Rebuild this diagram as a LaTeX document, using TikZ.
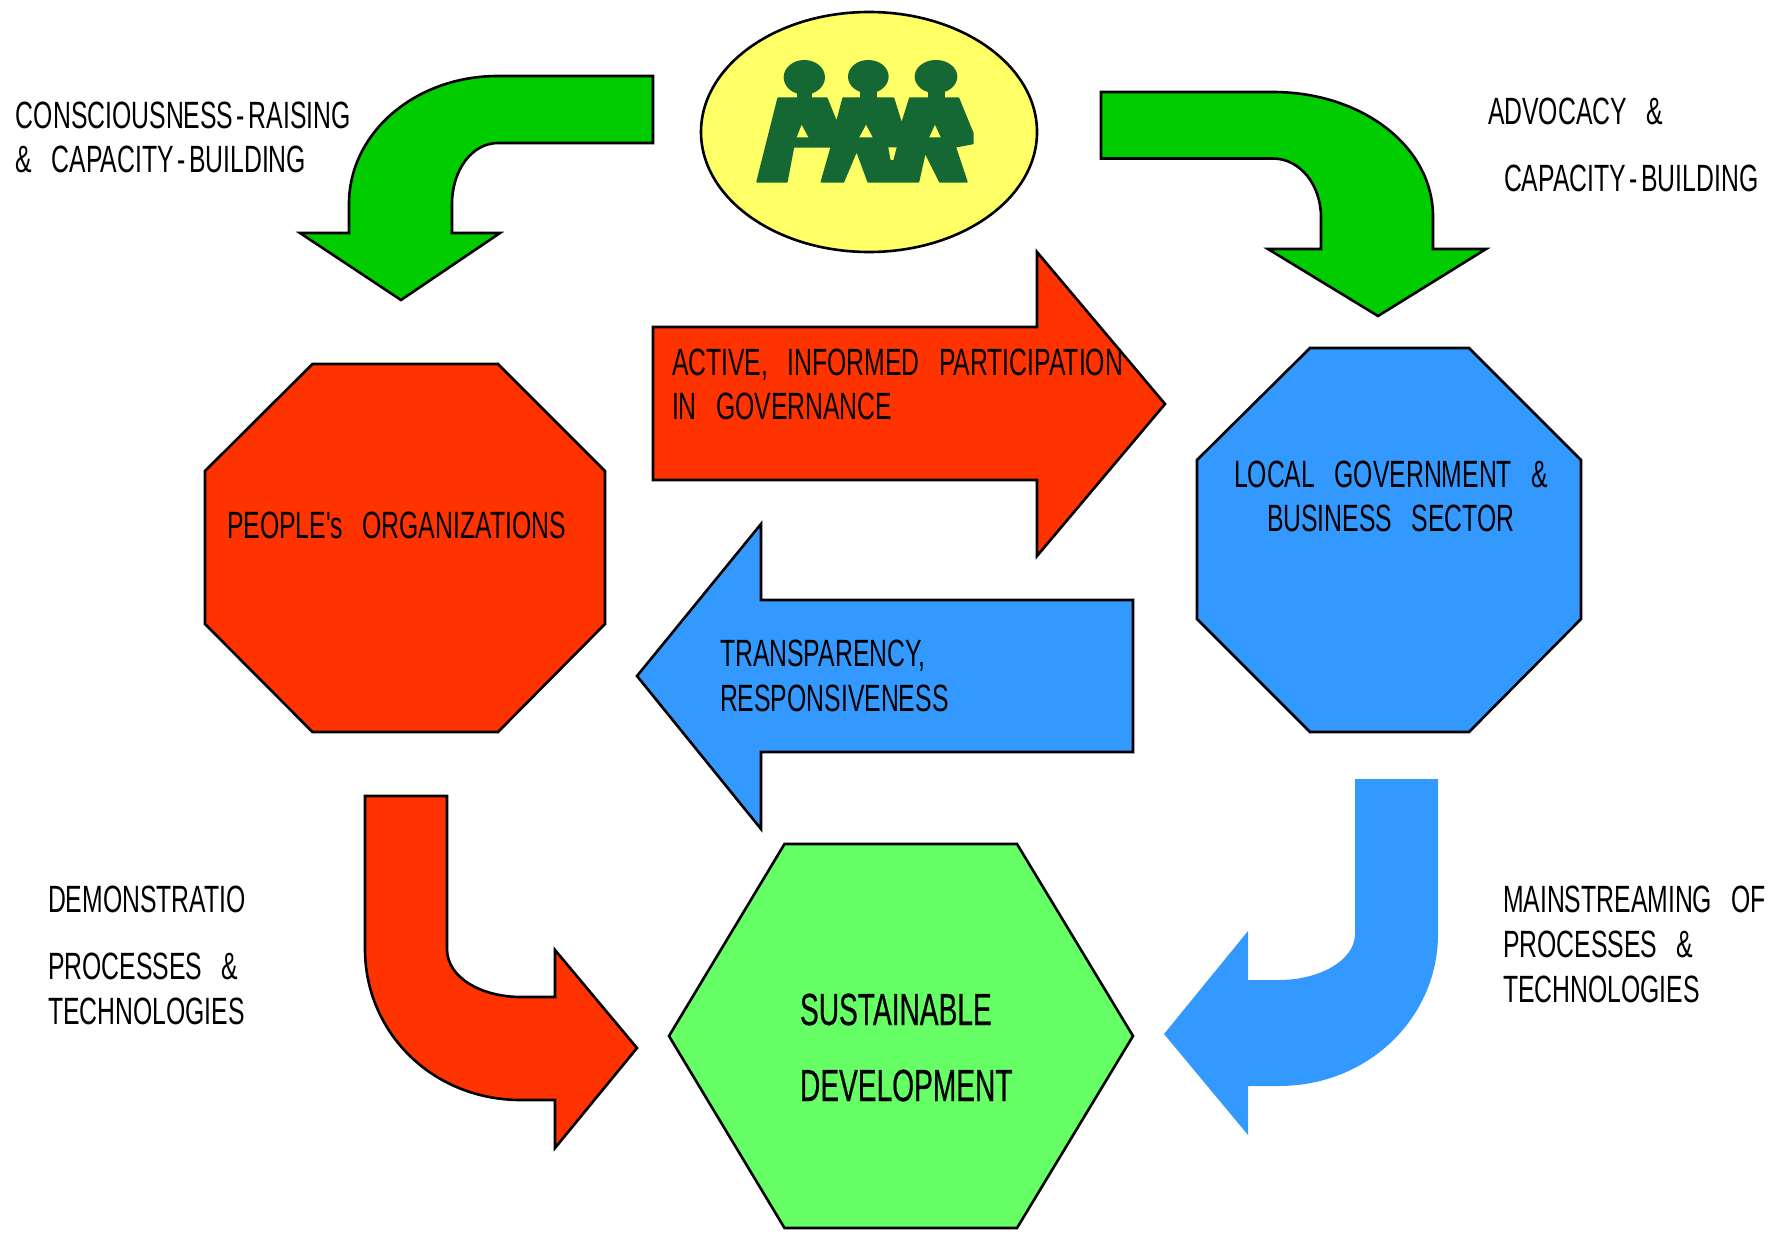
\documentclass[tikz,border=0pt]{standalone}
\usepackage{fontspec}
\newfontfamily\narrowfont[FakeStretch=0.652,WordSpace=2.8]{Liberation Sans}
\newfontfamily\narrowbold[FakeStretch=0.625,WordSpace=1.2,FakeBold=0.5]{Liberation Sans}
\newcommand{\hy}{\kern3.5pt-\kern3.5pt}
\definecolor{cRed}{HTML}{FF3300}
\definecolor{cBlue}{HTML}{3399FF}
\definecolor{cGreen}{HTML}{00CC00}
\definecolor{cHex}{HTML}{66FF66}
\definecolor{cYellow}{HTML}{FFFF66}
\definecolor{cLogo}{HTML}{156734}
\tikzset{
 shapeline/.style={draw=black,line width=2.6pt,line join=miter,miter limit=6},
 lbl/.style={anchor=base west,inner sep=0pt,outer sep=0pt,text=black,font=\fontsize{38}{38}\narrowfont},
 lblb/.style={anchor=base west,inner sep=0pt,outer sep=0pt,text=black,font=\fontsize{45}{45}\narrowbold},
}
\begin{document}
\begin{tikzpicture}[x=1pt,y=-1pt]
\useasboundingbox (0,0) rectangle (1775,1233);
% ellipse
\draw[shapeline,fill=cYellow] (869,132) ellipse [x radius=168,y radius=120];
% logo
\begin{scope}[shift={(680,0)},x=0.3333pt,y=-0.3333pt]
\fill[cLogo] (373,232) ellipse [x radius=62,y radius=52];
\fill[cLogo] (565,230) ellipse [x radius=61,y radius=50];
\fill[cLogo] (768,230) ellipse [x radius=64,y radius=50];
\fill[cLogo] (350,270) rectangle (395,300);
\fill[cLogo] (540,270) rectangle (590,300);
\fill[cLogo] (745,270) rectangle (795,300);
\fill[cLogo,line join=round,draw=cLogo,line width=2pt] (295,295)--(440,295)--(470,370)--(490,295)--(640,295)--(665,375)--(690,295)--(835,295)
 --(878,400)--(878,430)--(825,440)--(860,545)--(780,545)--(735,455)--(715,545)--(565,545)--(530,450)
 --(490,545)--(425,545)--(455,440)--(340,440)--(320,545)--(232,545)--cycle;
\fill[cYellow] (365,375)--(385,412)--(350,412)--cycle;
\fill[cYellow] (558,375)--(578,412)--(538,412)--cycle;
\fill[cYellow] (765,375)--(782,412)--(748,412)--cycle;
\fill[cYellow] (625,442)--(650,442)--(640,480)--(632,480)--cycle;
\end{scope}
% green bent arrows
\draw[shapeline,fill=cGreen] (653,76)--(653,143)--(498,143)
 .. controls (472,143) and (452,170) .. (452,204)--(452,233)--(500,233)--(401,300)--(300,233)--(349,233)--(349,204)
 .. controls (349,133) and (415,76) .. (498,76)--cycle;
\draw[shapeline,fill=cGreen] (1101,92)--(1101,158.5)--(1273,158.5)
 .. controls (1300,158.5) and (1321,185) .. (1321,217)--(1321,249)--(1268,249)--(1378,316)--(1486,249)--(1433,249)--(1433,217)
 .. controls (1433,145) and (1360,92) .. (1273,92)--cycle;
% octagons and hexagon
\draw[shapeline,fill=cRed] (312.5,364)--(498,364)--(605,471)--(605,624)--(498,732)--(312.5,732)--(205,624)--(205,471)--cycle;
\draw[shapeline,fill=cBlue] (1310,348)--(1469,348)--(1581,460)--(1581,619)--(1469,732)--(1310,732)--(1197,619)--(1197,460)--cycle;
\draw[shapeline,fill=cHex] (784.5,844)--(1017,844)--(1133,1036)--(1017,1228)--(784.5,1228)--(669,1036)--cycle;
% straight arrows
\draw[shapeline,fill=cRed] (653,327)--(1037,327)--(1037,252)--(1165,404)--(1037,556)--(1037,480)--(653,480)--cycle;
\draw[shapeline,fill=cBlue] (1133,600)--(761,600)--(761,524)--(637,676)--(761,829)--(761,752)--(1133,752)--cycle;
% bent bottom arrows
\draw[shapeline,fill=cRed] (365,796)--(447,796)--(447,949)
 .. controls (447,978) and (482,997) .. (521,997)--(555,997)--(555,950)--(637,1048)--(555,1148)--(555,1100)--(521,1100)
 .. controls (432,1100) and (365,1032) .. (365,949)--cycle;
\fill[cBlue] (1355,779)--(1438,779)--(1438,934)
 .. controls (1438,1018) and (1368,1086) .. (1279,1086)--(1248,1086)--(1248,1135)--(1164,1034)--(1248,931)--(1248,980)--(1279,980)
 .. controls (1320,980) and (1355,960) .. (1355,934)--cycle;
% labels
\node[lbl] (t1) at (16,129) {CONSCIOUSNESS\hy RAISING};
\node[lbl] (t2) at (16,173) {\& CAPACITY\hy BUILDING};
\node[lbl] (t3) at (1488,124.5) {ADVOCACY \&};
\node[lbl] (t4) at (1504,192) {CAPACITY\hy BUILDING};
\node[lbl] (t5) at (672,375) {ACTIVE, INFORMED PARTICIPATION};
\node[lbl] (t6) at (672,419) {IN GOVERNANCE};
\node[lbl] (t7) at (227,538) {PEOPLE's ORGANIZATIONS};
\node[lbl] (t8) at (1234,487) {LOCAL GOVERNMENT \&};
\node[lbl] (t9) at (1267,531) {BUSINESS SECTOR};
\node[lbl] (t10) at (720,666) {TRANSPARENCY,};
\node[lbl] (t11) at (720,711) {RESPONSIVENESS};
\node[lbl] (t12) at (48,912) {DEMONSTRATIO};
\node[lbl] (t13) at (48,979) {PROCESSES \&};
\node[lbl] (t14) at (48,1024) {TECHNOLOGIES};
\node[lbl] (t15) at (1503,912) {MAINSTREAMING OF};
\node[lbl] (t16) at (1503,957) {PROCESSES \&};
\node[lbl] (t17) at (1503,1002) {TECHNOLOGIES};
\node[lblb] (t18) at (800,1025) {SUSTAINABLE};
\node[lblb] (t19) at (800,1101) {DEVELOPMENT};
\end{tikzpicture}
\end{document}
